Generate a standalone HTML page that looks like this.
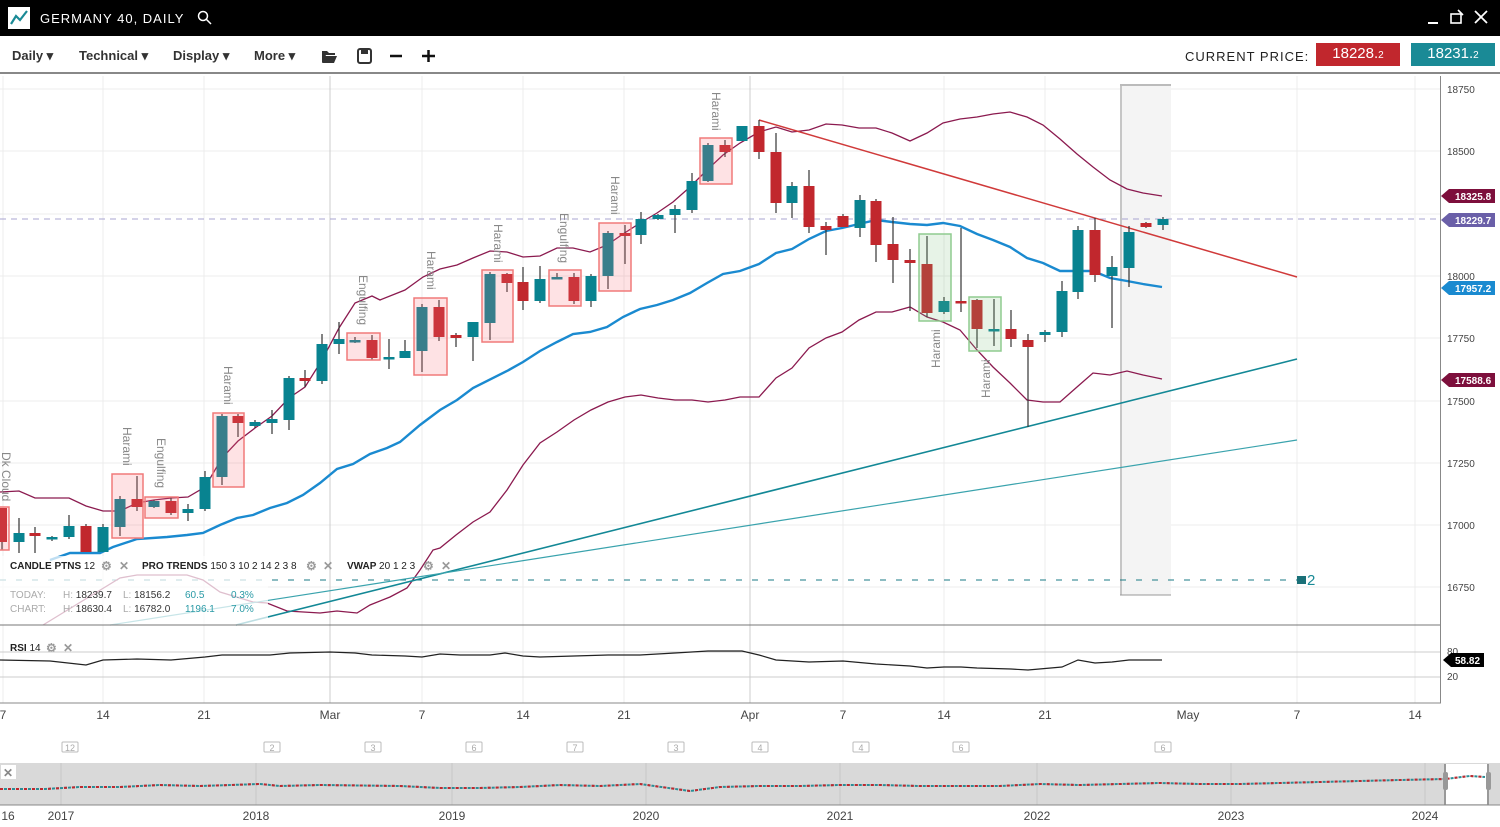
<!DOCTYPE html>
<html><head><meta charset="utf-8"><style>
*{margin:0;padding:0;box-sizing:border-box}
body{width:1500px;height:827px;overflow:hidden;background:#fff;font-family:"Liberation Sans",sans-serif;position:relative}
.top{position:absolute;left:0;top:0;width:1500px;height:36px;background:#000;color:#fff}
.tb{position:absolute;top:36px;left:0;width:1500px;height:38px;border-bottom:2px solid #888;background:#fff}
.tb span{position:absolute;top:12px;font-size:13px;font-weight:bold;color:#333}
.abs{position:absolute}
</style></head><body>
<div class="top">
 <div class="abs" style="left:8px;top:7px;width:22px;height:22px;background:#fff"><svg width="22" height="22"><polyline points="3,17 8,9 12,13 19,4" fill="none" stroke="#1a8a96" stroke-width="2.2"/></svg></div>
 <div class="abs" style="left:40px;top:11px;font-size:13px;letter-spacing:1px">GERMANY 40, DAILY</div>
 <svg class="abs" style="left:197px;top:10px" width="16" height="16"><circle cx="6" cy="6" r="4.5" fill="none" stroke="#fff" stroke-width="1.5"/><line x1="9.5" y1="9.5" x2="14" y2="14" stroke="#fff" stroke-width="1.5"/></svg>
 <svg class="abs" style="left:1425px;top:8px" width="70" height="20"><line x1="3" y1="15" x2="13" y2="15" stroke="#fff" stroke-width="2"/><rect x="26" y="6" width="10" height="9" fill="none" stroke="#fff" stroke-width="1.6"/><line x1="33" y1="2" x2="38" y2="7" stroke="#fff" stroke-width="1.6"/><line x1="50" y1="3" x2="62" y2="15" stroke="#fff" stroke-width="1.8"/><line x1="62" y1="3" x2="50" y2="15" stroke="#fff" stroke-width="1.8"/></svg>
</div>
<div class="tb">
 <span style="left:12px">Daily ▾</span><span style="left:79px">Technical ▾</span><span style="left:173px">Display ▾</span><span style="left:254px">More ▾</span>
 <svg class="abs" style="left:320px;top:11px" width="125" height="18"><path d="M2,4h5l2,2h6v2H6l-3,7H2z M5,9h12l-3,7H2z" fill="#333"/><rect x="38" y="2" width="13" height="14" rx="2" fill="none" stroke="#333" stroke-width="2"/><rect x="41" y="3" width="7" height="4" fill="#333"/><line x1="70" y1="9" x2="82" y2="9" stroke="#111" stroke-width="2.5"/><line x1="102" y1="9" x2="115" y2="9" stroke="#111" stroke-width="2.5"/><line x1="108.5" y1="3" x2="108.5" y2="15" stroke="#111" stroke-width="2.5"/></svg>
 <div class="abs" style="left:1185px;top:13px;font-size:13px;letter-spacing:1px;color:#222">CURRENT PRICE:</div>
 <div class="abs" style="left:1316px;top:7px;width:84px;height:23px;background:#c1272d;color:#fff;font-size:15px;text-align:center;line-height:22px">18228.<small style="font-size:10px">2</small></div>
 <div class="abs" style="left:1411px;top:7px;width:84px;height:23px;background:#1a8a96;color:#fff;font-size:15px;text-align:center;line-height:22px">18231.<small style="font-size:10px">2</small></div>
</div>
<svg class="abs" style="left:0;top:0" width="1500" height="827" font-family="Liberation Sans, sans-serif">
<g stroke="#ececec" stroke-width="1">
<line x1="0" y1="89" x2="1440" y2="89"/><line x1="0" y1="151" x2="1440" y2="151"/><line x1="0" y1="214" x2="1440" y2="214"/><line x1="0" y1="276" x2="1440" y2="276"/><line x1="0" y1="338" x2="1440" y2="338"/><line x1="0" y1="401" x2="1440" y2="401"/><line x1="0" y1="463" x2="1440" y2="463"/><line x1="0" y1="525" x2="1440" y2="525"/><line x1="0" y1="587" x2="1440" y2="587"/>
<line x1="103" y1="76" x2="103" y2="703"/><line x1="204" y1="76" x2="204" y2="703"/><line x1="422" y1="76" x2="422" y2="703"/><line x1="523" y1="76" x2="523" y2="703"/><line x1="624" y1="76" x2="624" y2="703"/><line x1="843" y1="76" x2="843" y2="703"/><line x1="944" y1="76" x2="944" y2="703"/><line x1="1045" y1="76" x2="1045" y2="703"/><line x1="1297" y1="76" x2="1297" y2="703"/><line x1="1415" y1="76" x2="1415" y2="703"/><line x1="3" y1="76" x2="3" y2="703"/>
</g>
<line x1="330" y1="76" x2="330" y2="703" stroke="#ccc"/><line x1="750" y1="76" x2="750" y2="703" stroke="#ccc"/>
<rect x="1120" y="85" width="51" height="510" fill="#f4f4f4"/>
<line x1="1121" y1="85" x2="1121" y2="595" stroke="#999"/><line x1="1120" y1="85" x2="1171" y2="85" stroke="#bbb" stroke-width="2"/><line x1="1120" y1="595" x2="1171" y2="595" stroke="#999"/>
<line x1="0" y1="219" x2="1440" y2="219" stroke="#a8a4d0" stroke-dasharray="6,5"/>
<line x1="0" y1="580" x2="1297" y2="580" stroke="#1a7a84" stroke-dasharray="6,10"/>
<rect x="1297" y="576" width="9" height="8" fill="#1a7078"/><text x="1307" y="585" font-size="15" fill="#1a8a96">2</text>
<g fill="none">
<polyline stroke="#8b1a4f" stroke-width="1.3" points="0,492 19,491 35,498 52,498 69,498 86,506 103,511 120,511 137,503 154,500 171,498 188,497 205,487 222,458 238,441 255,428 272,416 289,398 305,387 322,360 339,328 355,303 372,296 380,300 405,290 423,277 440,269 457,265 473,258 490,251 507,252 523,257 540,256 557,248 573,248 590,252 607,245 623,234 640,223 657,213 673,202 690,187 707,170 723,155 740,143 759,132 776,127 792,132 809,130 826,124 842,125 859,128 876,128 892,133 910,141 927,133 943,123 960,119 977,117 993,114 1010,112 1027,117 1043,125 1060,139 1077,154 1093,167 1110,180 1127,189 1143,193 1162,196"/>
<polyline stroke="#8b1a4f" stroke-width="1.3" points="43,625 120,578 137,575 187,575 203,580 220,592 253,602 267,603 287,611 320,613 337,611 357,613 370,605 390,597 407,588 420,570 433,550 440,548 456,535 473,522 490,512 507,490 523,465 540,443 557,432 574,420 591,410 608,402 625,397 641,395 658,398 675,400 692,400 708,402 725,400 740,397 759,397 776,378 792,368 809,348 826,338 842,332 859,320 876,312 892,312 910,307 927,317 943,322 960,330 977,350 993,367 1010,383 1027,400 1043,402 1060,402 1077,387 1093,373 1110,375 1127,371 1143,375 1162,379"/>
<polyline stroke="#1a8ad0" stroke-width="2.4" points="50,560 70,553 100,553 113,547 137,539 167,537 187,535 203,533 220,525 237,518 253,515 270,508 287,503 303,495 320,483 337,469 353,464 370,454 387,448 400,442 420,425 440,410 457,400 473,388 507,371 523,362 540,351 557,342 573,334 590,332 607,327 623,317 640,309 657,305 673,300 690,293 707,283 723,274 740,271 759,264 776,253 792,249 809,239 826,231 842,228 859,224 876,220 892,222 910,224 927,225 943,223 960,226 977,234 993,240 1010,247 1027,258 1043,263 1060,271 1077,271 1093,271 1110,278 1127,281 1143,284 1162,287"/>
<line x1="759" y1="120" x2="1297" y2="277" stroke="#d03a3a" stroke-width="1.5"/>
<line x1="236" y1="625" x2="1297" y2="359" stroke="#138896" stroke-width="1.6"/>
<line x1="110" y1="625" x2="1297" y2="440" stroke="#3aa3ad" stroke-width="1.2"/>
</g>
<g id="c" stroke="#333" stroke-width="1.2">
<line x1="2" y1="508" x2="2" y2="550"/><rect x="-4" y="508" width="11" height="34" fill="#c1272d" stroke="none"/>
<line x1="19" y1="518" x2="19" y2="553"/><rect x="13.5" y="533" width="11" height="9" fill="#088390" stroke="none"/>
<line x1="35" y1="527" x2="35" y2="553"/><rect x="29.5" y="533" width="11" height="3" fill="#c1272d" stroke="none"/>
<line x1="52" y1="536" x2="52" y2="541"/><rect x="46.5" y="537" width="11" height="2.5" fill="#088390" stroke="none"/>
<line x1="69" y1="515" x2="69" y2="539"/><rect x="63.5" y="526" width="11" height="11" fill="#088390" stroke="none"/>
<line x1="86" y1="524" x2="86" y2="552"/><rect x="80.5" y="526" width="11" height="26" fill="#c1272d" stroke="none"/>
<line x1="103" y1="524" x2="103" y2="552"/><rect x="97.5" y="527" width="11" height="25" fill="#088390" stroke="none"/>
<line x1="120" y1="496" x2="120" y2="536"/><rect x="114.5" y="499" width="11" height="28" fill="#088390" stroke="none"/>
<line x1="137" y1="476" x2="137" y2="511"/><rect x="131.5" y="499" width="11" height="8" fill="#c1272d" stroke="none"/>
<line x1="154" y1="500" x2="154" y2="508"/><rect x="148.5" y="501" width="11" height="6" fill="#088390" stroke="none"/>
<line x1="171" y1="497" x2="171" y2="515"/><rect x="165.5" y="501" width="11" height="12" fill="#c1272d" stroke="none"/>
<line x1="188" y1="504" x2="188" y2="521"/><rect x="182.5" y="509" width="11" height="4" fill="#088390" stroke="none"/>
<line x1="205" y1="471" x2="205" y2="511"/><rect x="199.5" y="477" width="11" height="32" fill="#088390" stroke="none"/>
<line x1="222" y1="414" x2="222" y2="485"/><rect x="216.5" y="416" width="11" height="61" fill="#088390" stroke="none"/>
<line x1="238" y1="414" x2="238" y2="437"/><rect x="232.5" y="416" width="11" height="7" fill="#c1272d" stroke="none"/>
<line x1="255" y1="420" x2="255" y2="428"/><rect x="249.5" y="422" width="11" height="4" fill="#088390" stroke="none"/>
<line x1="272" y1="410" x2="272" y2="434"/><rect x="266.5" y="419" width="11" height="4" fill="#088390" stroke="none"/>
<line x1="289" y1="376" x2="289" y2="430"/><rect x="283.5" y="378" width="11" height="42" fill="#088390" stroke="none"/>
<line x1="305" y1="370" x2="305" y2="387"/><rect x="299.5" y="378" width="11" height="3" fill="#c1272d" stroke="none"/>
<line x1="322" y1="334" x2="322" y2="384"/><rect x="316.5" y="344" width="11" height="37" fill="#088390" stroke="none"/>
<line x1="339" y1="322" x2="339" y2="354"/><rect x="333.5" y="339" width="11" height="5" fill="#088390" stroke="none"/>
<line x1="355" y1="337" x2="355" y2="343"/><rect x="349.5" y="340" width="11" height="2.5" fill="#088390" stroke="none"/>
<line x1="372" y1="335" x2="372" y2="360"/><rect x="366.5" y="340" width="11" height="18" fill="#c1272d" stroke="none"/>
<line x1="389" y1="339" x2="389" y2="369"/><rect x="383.5" y="357" width="11" height="2.5" fill="#088390" stroke="none"/>
<line x1="405" y1="340" x2="405" y2="358"/><rect x="399.5" y="351" width="11" height="7" fill="#088390" stroke="none"/>
<line x1="422" y1="304" x2="422" y2="372"/><rect x="416.5" y="307" width="11" height="44" fill="#088390" stroke="none"/>
<line x1="439" y1="300" x2="439" y2="341"/><rect x="433.5" y="307" width="11" height="30" fill="#c1272d" stroke="none"/>
<line x1="456" y1="333" x2="456" y2="347"/><rect x="450.5" y="335" width="11" height="3" fill="#c1272d" stroke="none"/>
<line x1="473" y1="322" x2="473" y2="361"/><rect x="467.5" y="322" width="11" height="15" fill="#088390" stroke="none"/>
<line x1="490" y1="272" x2="490" y2="340"/><rect x="484.5" y="274" width="11" height="49" fill="#088390" stroke="none"/>
<line x1="507" y1="273" x2="507" y2="292"/><rect x="501.5" y="274" width="11" height="9" fill="#c1272d" stroke="none"/>
<line x1="523" y1="267" x2="523" y2="310"/><rect x="517.5" y="282" width="11" height="19" fill="#c1272d" stroke="none"/>
<line x1="540" y1="266" x2="540" y2="303"/><rect x="534.5" y="279" width="11" height="22" fill="#088390" stroke="none"/>
<line x1="557" y1="273" x2="557" y2="279"/><rect x="551.5" y="277" width="11" height="2.5" fill="#088390" stroke="none"/>
<line x1="574" y1="273" x2="574" y2="304"/><rect x="568.5" y="277" width="11" height="24" fill="#c1272d" stroke="none"/>
<line x1="591" y1="274" x2="591" y2="307"/><rect x="585.5" y="276" width="11" height="25" fill="#088390" stroke="none"/>
<line x1="608" y1="231" x2="608" y2="289"/><rect x="602.5" y="233" width="11" height="43" fill="#088390" stroke="none"/>
<line x1="625" y1="225" x2="625" y2="264"/><rect x="619.5" y="233" width="11" height="3" fill="#c1272d" stroke="none"/>
<line x1="641" y1="212" x2="641" y2="244"/><rect x="635.5" y="219" width="11" height="16" fill="#088390" stroke="none"/>
<line x1="658" y1="214" x2="658" y2="220"/><rect x="652.5" y="215" width="11" height="4" fill="#088390" stroke="none"/>
<line x1="675" y1="205" x2="675" y2="233"/><rect x="669.5" y="209" width="11" height="6" fill="#088390" stroke="none"/>
<line x1="692" y1="173" x2="692" y2="213"/><rect x="686.5" y="181" width="11" height="29" fill="#088390" stroke="none"/>
<line x1="708" y1="143" x2="708" y2="182"/><rect x="702.5" y="145" width="11" height="36" fill="#088390" stroke="none"/>
<line x1="725" y1="140" x2="725" y2="157"/><rect x="719.5" y="145" width="11" height="7" fill="#c1272d" stroke="none"/>
<rect x="736.5" y="126" width="11" height="15" fill="#088390" stroke="none"/>
<line x1="759" y1="120" x2="759" y2="159"/><rect x="753.5" y="126" width="11" height="26" fill="#c1272d" stroke="none"/>
<line x1="776" y1="133" x2="776" y2="213"/><rect x="770.5" y="152" width="11" height="51" fill="#c1272d" stroke="none"/>
<line x1="792" y1="182" x2="792" y2="218"/><rect x="786.5" y="186" width="11" height="17" fill="#088390" stroke="none"/>
<line x1="809" y1="170" x2="809" y2="233"/><rect x="803.5" y="186" width="11" height="41" fill="#c1272d" stroke="none"/>
<line x1="826" y1="222" x2="826" y2="255"/><rect x="820.5" y="226" width="11" height="4" fill="#c1272d" stroke="none"/>
<line x1="843" y1="214" x2="843" y2="227"/><rect x="837.5" y="216" width="11" height="11" fill="#c1272d" stroke="none"/>
<line x1="860" y1="195" x2="860" y2="237"/><rect x="854.5" y="200" width="11" height="28" fill="#088390" stroke="none"/>
<line x1="876" y1="199" x2="876" y2="262"/><rect x="870.5" y="201" width="11" height="44" fill="#c1272d" stroke="none"/>
<line x1="893" y1="217" x2="893" y2="283"/><rect x="887.5" y="244" width="11" height="16" fill="#c1272d" stroke="none"/>
<line x1="910" y1="249" x2="910" y2="311"/><rect x="904.5" y="260" width="11" height="3" fill="#c1272d" stroke="none"/>
<line x1="927" y1="236" x2="927" y2="317"/><rect x="921.5" y="264" width="11" height="49" fill="#c1272d" stroke="none"/>
<line x1="944" y1="297" x2="944" y2="314"/><rect x="938.5" y="301" width="11" height="11" fill="#088390" stroke="none"/>
<line x1="961" y1="228" x2="961" y2="312"/><rect x="955.5" y="301" width="11" height="2.5" fill="#c1272d" stroke="none"/>
<line x1="977" y1="299" x2="977" y2="348"/><rect x="971.5" y="300" width="11" height="29" fill="#c1272d" stroke="none"/>
<line x1="994" y1="299" x2="994" y2="346"/><rect x="988.5" y="329" width="11" height="2.5" fill="#088390" stroke="none"/>
<line x1="1011" y1="310" x2="1011" y2="347"/><rect x="1005.5" y="329" width="11" height="10" fill="#c1272d" stroke="none"/>
<line x1="1028" y1="334" x2="1028" y2="427"/><rect x="1022.5" y="340" width="11" height="7" fill="#c1272d" stroke="none"/>
<line x1="1045" y1="330" x2="1045" y2="342"/><rect x="1039.5" y="332" width="11" height="3" fill="#088390" stroke="none"/>
<line x1="1062" y1="281" x2="1062" y2="337"/><rect x="1056.5" y="291" width="11" height="41" fill="#088390" stroke="none"/>
<line x1="1078" y1="226" x2="1078" y2="299"/><rect x="1072.5" y="230" width="11" height="62" fill="#088390" stroke="none"/>
<line x1="1095" y1="218" x2="1095" y2="282"/><rect x="1089.5" y="230" width="11" height="45" fill="#c1272d" stroke="none"/>
<line x1="1112" y1="256" x2="1112" y2="328"/><rect x="1106.5" y="267" width="11" height="9" fill="#088390" stroke="none"/>
<line x1="1129" y1="226" x2="1129" y2="287"/><rect x="1123.5" y="232" width="11" height="36" fill="#088390" stroke="none"/>
<line x1="1146" y1="222" x2="1146" y2="228"/><rect x="1140.5" y="223" width="11" height="4" fill="#c1272d" stroke="none"/>
<line x1="1163" y1="217" x2="1163" y2="230"/><rect x="1157.5" y="219" width="11" height="6" fill="#088390" stroke="none"/>
</g>
<g fill="rgba(250,110,120,0.2)" stroke="#f07a7a" stroke-width="1.5">
<rect x="-5" y="507" width="14" height="43"/>
<rect x="112" y="474" width="31" height="64"/><rect x="145" y="497" width="33" height="21"/><rect x="213" y="413" width="31" height="74"/><rect x="347" y="333" width="33" height="27"/><rect x="414" y="298" width="33" height="77"/><rect x="482" y="270" width="31" height="72"/><rect x="549" y="270" width="32" height="36"/><rect x="599" y="223" width="32" height="68"/><rect x="700" y="138" width="32" height="46"/>
</g>
<g fill="rgba(120,190,120,0.18)" stroke="#8fcb8f" stroke-width="1.5">
<rect x="919" y="234" width="32" height="87"/><rect x="969" y="297" width="32" height="54"/>
</g>
<g font-size="12" fill="#888">
<text transform="translate(2,452) rotate(90)">Dk Cloud</text>
<text transform="translate(123,427) rotate(90)">Harami</text>
<text transform="translate(157,438) rotate(90)">Engulfing</text>
<text transform="translate(224,366) rotate(90)">Harami</text>
<text transform="translate(359,275) rotate(90)">Engulfing</text>
<text transform="translate(427,251) rotate(90)">Harami</text>
<text transform="translate(494,224) rotate(90)">Harami</text>
<text transform="translate(560,213) rotate(90)">Engulfing</text>
<text transform="translate(611,176) rotate(90)">Harami</text>
<text transform="translate(712,92) rotate(90)">Harami</text>
<text transform="translate(940,368) rotate(-90)">Harami</text>
<text transform="translate(990,398) rotate(-90)">Harami</text>
</g>
<rect x="0" y="556" width="268" height="69" fill="#fff" opacity="0.72"/>
<g font-size="10" font-weight="bold" fill="#222">
<text x="10" y="569">CANDLE PTNS <tspan font-weight="normal">12</tspan></text>
<text x="142" y="569">PRO TRENDS <tspan font-weight="normal">150 3 10 2 14 2 3 8</tspan></text>
<text x="347" y="569">VWAP <tspan font-weight="normal">20 1 2 3</tspan></text>
<text x="10" y="651">RSI <tspan font-weight="normal">14</tspan></text>
</g>
<g font-size="12" fill="#999" font-weight="bold"><text x="101" y="570">⚙</text><text x="119" y="570">✕</text><text x="306" y="570">⚙</text><text x="323" y="570">✕</text><text x="423" y="570">⚙</text><text x="441" y="570">✕</text><text x="46" y="652">⚙</text><text x="63" y="652">✕</text></g>
<g font-size="10" fill="#aaa"><text x="10" y="598">TODAY:</text><text x="10" y="612">CHART:</text><text x="63" y="598">H: <tspan fill="#333">18239.7</tspan></text><text x="63" y="612">H: <tspan fill="#333">18630.4</tspan></text><text x="123" y="598">L: <tspan fill="#333">18156.2</tspan></text><text x="123" y="612">L: <tspan fill="#333">16782.0</tspan></text><text x="185" y="598" fill="#2a9aa6">60.5</text><text x="185" y="612" fill="#2a9aa6">1196.1</text><text x="231" y="598" fill="#2a9aa6">0.3%</text><text x="231" y="612" fill="#2a9aa6">7.0%</text></g>
<line x1="0" y1="625" x2="1440" y2="625" stroke="#777"/>
<line x1="0" y1="652" x2="1440" y2="652" stroke="#ccc"/><line x1="0" y1="677" x2="1440" y2="677" stroke="#ccc"/>
<polyline fill="none" stroke="#222" stroke-width="1.2" points="0,660 50,661 86,665 103,660 137,659 171,660 205,657 222,655 270,655 290,653 330,652 355,653 372,655 405,656 422,657 440,654 460,655 490,655 505,653 523,656 540,657 574,656 608,655 640,655 675,653 708,651 742,651 759,655 776,660 809,662 843,661 876,664 910,666 927,668 944,667 961,667 977,668 1011,669 1028,670 1062,667 1078,660 1095,663 1112,662 1129,660 1162,660"/>
<line x1="0" y1="703" x2="1441" y2="703" stroke="#888"/>
<line x1="1440.5" y1="76" x2="1440.5" y2="703" stroke="#888"/>
<g font-size="10" fill="#444"><text x="1447" y="93">18750</text><text x="1447" y="155">18500</text><text x="1447" y="280">18000</text><text x="1447" y="342">17750</text><text x="1447" y="405">17500</text><text x="1447" y="467">17250</text><text x="1447" y="529">17000</text><text x="1447" y="591">16750</text><text x="1447" y="655">80</text><text x="1447" y="680">20</text></g>
<g font-size="10" font-weight="bold" fill="#fff">
<path d="M1441,196 l8,-7 h46 v14 h-46z" fill="#7d0f3c"/><text x="1455" y="200">18325.8</text>
<path d="M1441,220 l8,-7 h46 v14 h-46z" fill="#6a5fa8"/><text x="1455" y="224">18229.7</text>
<path d="M1441,288 l8,-7 h46 v14 h-46z" fill="#1a8ad0"/><text x="1455" y="292">17957.2</text>
<path d="M1441,380 l8,-7 h46 v14 h-46z" fill="#7d0f3c"/><text x="1455" y="384">17588.6</text>
<path d="M1443,660 l8,-7 h33 v14 h-33z" fill="#000"/><text x="1455" y="664">58.82</text>
</g>
<g font-size="12" fill="#444" text-anchor="middle"><text x="3" y="719">7</text><text x="103" y="719">14</text><text x="204" y="719">21</text><text x="330" y="719">Mar</text><text x="422" y="719">7</text><text x="523" y="719">14</text><text x="624" y="719">21</text><text x="750" y="719">Apr</text><text x="843" y="719">7</text><text x="944" y="719">14</text><text x="1045" y="719">21</text><text x="1188" y="719">May</text><text x="1297" y="719">7</text><text x="1415" y="719">14</text></g>
<g fill="none" stroke="#bbb" font-size="9" text-anchor="middle">
<rect x="62" y="742" width="16" height="10" rx="1"/><rect x="264" y="742" width="16" height="10" rx="1"/><rect x="365" y="742" width="16" height="10" rx="1"/><rect x="466" y="742" width="16" height="10" rx="1"/><rect x="567" y="742" width="16" height="10" rx="1"/><rect x="668" y="742" width="16" height="10" rx="1"/><rect x="752" y="742" width="16" height="10" rx="1"/><rect x="853" y="742" width="16" height="10" rx="1"/><rect x="953" y="742" width="16" height="10" rx="1"/><rect x="1155" y="742" width="16" height="10" rx="1"/>
<g fill="#aaa" stroke="none"><text x="70" y="751">12</text><text x="272" y="751">2</text><text x="373" y="751">3</text><text x="474" y="751">6</text><text x="575" y="751">7</text><text x="676" y="751">3</text><text x="760" y="751">4</text><text x="861" y="751">4</text><text x="961" y="751">6</text><text x="1163" y="751">6</text></g></g>
<rect x="0" y="763" width="1500" height="42" fill="#d9d9d9"/>
<g stroke="#c8c8c8"><line x1="61" y1="763" x2="61" y2="805"/><line x1="256" y1="763" x2="256" y2="805"/><line x1="452" y1="763" x2="452" y2="805"/><line x1="646" y1="763" x2="646" y2="805"/><line x1="840" y1="763" x2="840" y2="805"/><line x1="1037" y1="763" x2="1037" y2="805"/><line x1="1231" y1="763" x2="1231" y2="805"/><line x1="1425" y1="763" x2="1425" y2="805"/></g>
<rect x="1445" y="764" width="43" height="40" fill="#fff"/>
<polyline fill="none" stroke="#2a8e96" stroke-width="2" stroke-dasharray="3,1" points="0,789 45,789 80,787 120,787 160,785 200,786 260,784 280,786 320,785 400,786 440,788 480,788 520,787 560,785 600,786 640,784 690,791 720,787 760,786 800,786 840,785 880,785 920,786 960,786 1000,786 1040,784 1080,785 1120,784 1160,783 1200,784 1240,784 1280,783 1320,782 1360,781 1400,780 1445,779 1470,776 1485,777"/>
<polyline fill="none" stroke="#c1272d" stroke-width="2" stroke-dasharray="3,5" points="0,789 45,789 80,787 120,787 160,785 200,786 260,784 280,786 320,785 400,786 440,788 480,788 520,787 560,785 600,786 640,784 690,791 720,787 760,786 800,786 840,785 880,785 920,786 960,786 1000,786 1040,784 1080,785 1120,784 1160,783 1200,784 1240,784 1280,783 1320,782 1360,781 1400,780 1445,779 1470,776 1485,777"/>
<line x1="1445" y1="764" x2="1445" y2="805" stroke="#999" stroke-width="2"/><line x1="1488" y1="764" x2="1488" y2="805" stroke="#999" stroke-width="2"/>
<rect x="1443" y="772" width="5" height="18" rx="2" fill="#999"/><rect x="1486" y="772" width="5" height="18" rx="2" fill="#999"/>
<rect x="1" y="765" width="15" height="14" fill="#fff"/><text x="3" y="777" font-size="12" font-weight="bold" fill="#888">✕</text>
<line x1="0" y1="805" x2="1500" y2="805" stroke="#888"/>
<g font-size="12" fill="#444" text-anchor="middle"><text x="8" y="820">16</text><text x="61" y="820">2017</text><text x="256" y="820">2018</text><text x="452" y="820">2019</text><text x="646" y="820">2020</text><text x="840" y="820">2021</text><text x="1037" y="820">2022</text><text x="1231" y="820">2023</text><text x="1425" y="820">2024</text></g>
</svg>
</body></html>
